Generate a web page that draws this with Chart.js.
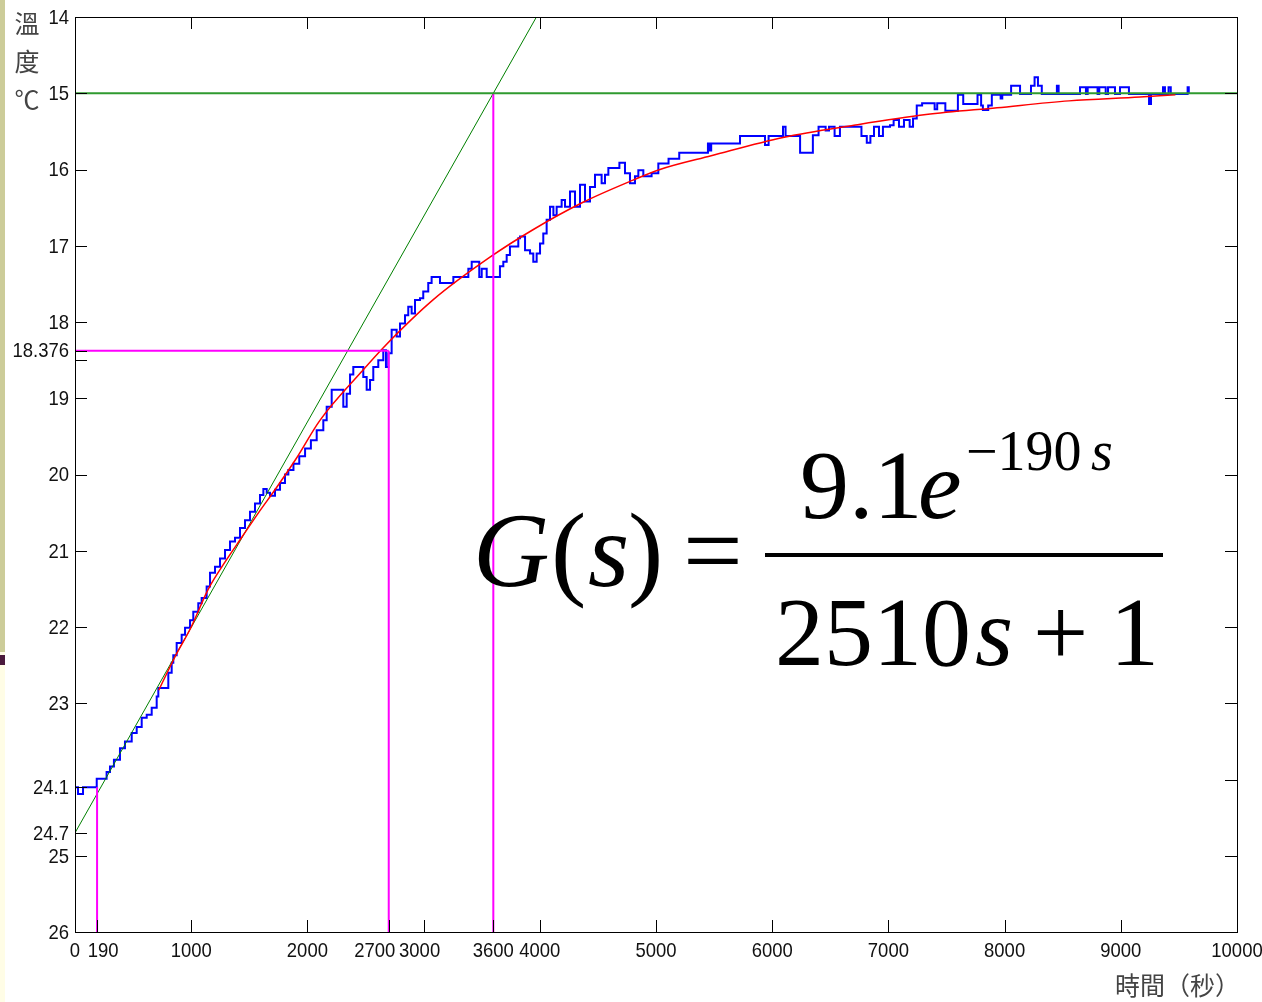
<!DOCTYPE html>
<html>
<head>
<meta charset="utf-8">
<script src="https://cdn.jsdelivr.net/npm/chart.js@4.4.1/dist/chart.umd.min.js"></script>
<style>
  html, body { margin: 0; padding: 0; background: #fff; }
  canvas { display: block; }
</style>
</head>
<body>
<canvas id="c" width="1262" height="1002"></canvas>
<script>
const measTime = [0, 26, 69, 187, 272, 301, 335, 387, 430, 488, 531, 574, 617, 660, 703, 717, 803, 832, 846, 875,
  918, 947, 990, 1018, 1061, 1090, 1133, 1162, 1205, 1248, 1291, 1334, 1377, 1420, 1463, 1506, 1549, 1592, 1621, 1650,
  1678, 1721, 1764, 1807, 1836, 1880, 1930, 1980, 2030, 2080, 2137, 2166, 2209, 2309, 2338, 2367, 2395, 2481, 2510, 2539,
  2567, 2610, 2653, 2676, 2696, 2725, 2768, 2797, 2840, 2868, 2897, 2926, 2969, 2997, 3040, 3069, 3141, 3256, 3385, 3414,
  3479, 3500, 3543, 3657, 3686, 3715, 3743, 3815, 3830, 3873, 3916, 3944, 3973, 4002, 4030, 4059, 4088, 4117, 4145, 4188,
  4217, 4260, 4303, 4346, 4389, 4432, 4475, 4532, 4561, 4590, 4685, 4733, 4776, 4819, 4848, 4891, 4962, 5020, 5108, 5200,
  5447, 5460, 5475, 5723, 5938, 5969, 6093, 6115, 6240, 6350, 6399, 6460, 6489, 6537, 6583, 6768, 6814, 6845, 6876, 6919,
  6953, 7014, 7045, 7091, 7134, 7183, 7212, 7244, 7290, 7398, 7420, 7490, 7598, 7644, 7767, 7798, 7813, 7859, 7890, 7966,
  7980, 8056, 8133, 8227, 8258, 8287, 8320, 8450, 8465, 8649, 8700, 8715, 8800, 8815, 8870, 8890, 8950, 8993, 9070, 9225,
  9243, 9260, 9363, 9380, 9411, 9430, 9575, 9585];
const measTemp = [24.1, 24.19, 24.1, 23.99, 23.9, 23.83, 23.74, 23.59, 23.5, 23.39, 23.31, 23.19, 23.15, 23.06, 22.91, 22.8, 22.6, 22.47, 22.37, 22.21,
  22.1, 22.01, 21.91, 21.8, 21.69, 21.62, 21.47, 21.29, 21.21, 21.1, 20.99, 20.88, 20.83, 20.7, 20.6, 20.49, 20.38, 20.27, 20.19, 20.24,
  20.28, 20.2, 20.11, 20.0, 19.94, 19.86, 19.76, 19.66, 19.55, 19.42, 19.29, 19.11, 18.89, 19.11, 18.94, 18.69, 18.59, 18.72, 18.89, 18.76,
  18.59, 18.5, 18.37, 18.59, 18.41, 18.1, 18.19, 18.02, 17.91, 17.8, 17.89, 17.71, 17.69, 17.6, 17.49, 17.41, 17.49, 17.41, 17.3, 17.21,
  17.41, 17.3, 17.41, 17.27, 17.21, 17.12, 17.01, 16.9, 16.88, 17.06, 17.1, 17.21, 17.1, 16.97, 16.84, 16.66, 16.49, 16.6, 16.49, 16.4,
  16.49, 16.29, 16.49, 16.2, 16.42, 16.23, 16.07, 16.18, 16.07, 15.98, 15.91, 16.05, 16.18, 16.09, 16.01, 16.09, 16.05, 15.92, 15.86, 15.78,
  15.66, 15.75, 15.66, 15.56, 15.68, 15.56, 15.44, 15.56, 15.78, 15.55, 15.44, 15.49, 15.44, 15.56, 15.44, 15.56, 15.65, 15.56, 15.44, 15.56,
  15.44, 15.42, 15.35, 15.44, 15.35, 15.44, 15.33, 15.16, 15.13, 15.21, 15.13, 15.23, 15.02, 15.14, 15.02, 15.16, 15.22, 15.16, 15.02, 15.07,
  15.02, 14.9, 15.01, 14.9, 14.79, 14.9, 15.01, 14.9, 15.01, 14.92, 15.01, 14.92, 15.01, 14.92, 15.01, 14.92, 15.01, 14.92, 15.01, 15.01,
  15.14, 15.01, 14.92, 15.01, 14.92, 15.01, 14.92, 15.0];

// fitted model response (red)
const fitTime = [720, 861, 1000, 1145, 1290, 1437, 1580, 1721, 1900, 2108, 2467, 2651, 3081, 3571, 3941, 4372, 4802, 5034, 5475,
  6093, 6704, 7324, 7935, 8554, 9165, 9470];
const fitTemp = [22.83, 22.39, 22.0, 21.51, 21.15, 20.82, 20.5, 20.2, 19.8, 19.29, 18.65, 18.34, 17.71, 17.15, 16.79, 16.43, 16.14, 16.0, 15.82,
  15.58, 15.42, 15.28, 15.19, 15.1, 15.05, 15.02];

// tangent line and final value
const tangentTime = [0, 3971];
const tangentTemp = [24.7, 14];
const finalTemp = 15;

// marker lines: dead time, 63.2% point, tangent crossing
const markTime = [190, 2700, 3600];
const markTemp = [24.1, 18.376, 15];

const xTicks = [0, 190, 1000, 2000, 2700, 3000, 3600, 4000, 5000, 6000, 7000, 8000, 9000, 10000];
const xTopTicks = [1000, 2000, 3000, 4000, 5000, 6000, 7000, 8000, 9000];
const yTicks = [14, 15, 16, 17, 18, 18.376, 19, 20, 21, 22, 23, 24.1, 24.7, 25, 26];
const yExtraTicks = [18.5];
const yRightTicks = [15, 16, 17, 18, 19, 20, 21, 22, 23, 24, 25];

const pts = (xs, ys) => xs.map((v, i) => ({ x: v, y: ys[i] }));
const seg = (x0, y0, x1, y1) => [{ x: x0, y: y0 }, { x: x1, y: y1 }];

const MAG = '#ff00ff';

// narrow tick label text, like the original plot
function narrowText(ctx, s, px, py) {
  ctx.save();
  ctx.translate(px, py);
  ctx.scale(0.88, 1);
  ctx.fillText(s, 0, 0);
  ctx.restore();
}

const axesBox = {
  id: 'axesBox',
  beforeDraw(chart) {
    const ctx = chart.ctx;
    ctx.save();
    ctx.fillStyle = '#fff';
    ctx.fillRect(0, 0, chart.width, chart.height);
    ctx.fillStyle = '#fffde6';
    ctx.fillRect(0, 0, 5, chart.height);
    ctx.fillStyle = '#cccc99';
    ctx.fillRect(0, 0, 5, 652);
    ctx.fillStyle = '#4a1a3c';
    ctx.fillRect(0, 655, 5, 10);
    ctx.restore();
  },
  afterDraw(chart) {
    const { ctx, chartArea: a, scales: { x, y } } = chart;
    ctx.save();
    ctx.strokeStyle = '#000';
    ctx.lineWidth = 1;
    ctx.strokeRect(a.left + 0.5, a.top + 0.5, a.right - a.left, a.bottom - a.top);

    const tl = 12;
    ctx.beginPath();
    yTicks.concat(yExtraTicks).forEach(v => {
      const py = Math.round(y.getPixelForValue(v)) + 0.5;
      ctx.moveTo(a.left, py); ctx.lineTo(a.left + tl, py);
    });
    yRightTicks.forEach(v => {
      const py = Math.round(y.getPixelForValue(v)) + 0.5;
      ctx.moveTo(a.right, py); ctx.lineTo(a.right - tl, py);
    });
    xTicks.forEach(v => {
      const px = Math.round(x.getPixelForValue(v)) + 0.5;
      ctx.moveTo(px, a.bottom); ctx.lineTo(px, a.bottom - tl);
    });
    xTopTicks.forEach(v => {
      const px = Math.round(x.getPixelForValue(v)) + 0.5;
      ctx.moveTo(px, a.top); ctx.lineTo(px, a.top + tl);
    });
    ctx.stroke();

    // tick labels
    ctx.fillStyle = '#111';
    ctx.font = '21px "Liberation Sans", Arial, sans-serif';
    ctx.textAlign = 'right';
    ctx.textBaseline = 'middle';
    yTicks.forEach(v => {
      narrowText(ctx, String(v), a.left - 6, y.getPixelForValue(v) + 1);
    });
    const xShift = { 190: 6, 2700: -14, 3000: -4 };
    ctx.textAlign = 'center';
    xTicks.forEach(v => {
      narrowText(ctx, String(v), x.getPixelForValue(v) + (xShift[v] || 0), a.bottom + 19);
    });

    // axis titles
    ctx.fillStyle = '#444';
    ctx.font = '25px "Noto Sans CJK TC", sans-serif';
    ctx.textAlign = 'center';
    ['溫', '度', '℃'].forEach((c, i) => ctx.fillText(c, 27, 23 + i * 38));
    ctx.textAlign = 'right';
    ctx.fillText('時間（秒）', 1240, 985);

    // transfer function
    ctx.fillStyle = '#000';
    ctx.textAlign = 'left';
    ctx.textBaseline = 'alphabetic';
    const t = (s, px, py, size, it) => {
      ctx.font = (it ? 'italic ' : '') + size + 'px "Liberation Serif", "Times New Roman", serif';
      ctx.fillText(s, px, py);
    };
    t('G', 473, 586, 106, true);
    t('(', 551, 586, 106, false);
    t('s', 588, 586, 106, true);
    t(')', 628, 586, 106, false);
    t('=', 683, 586, 106, false);
    t('9.1', 800, 518, 98, false);
    t('e', 918, 518, 98, true);
    t('\u2212190', 966, 470, 56, false);
    t('s', 1091, 470, 56, true);
    ctx.fillRect(765, 553, 398, 4);
    t('2510', 775, 665, 98, false);
    t('s', 975, 665, 98, true);
    t('+', 1033, 665, 98, false);
    t('1', 1110, 665, 98, false);
    ctx.restore();
  }
};

new Chart(document.getElementById('c'), {
  type: 'line',
  data: {
    datasets: [
      { data: seg(0, finalTemp, 10000, finalTemp), borderColor: '#2f9a2f', borderWidth: 2, order: 0 },
      { data: seg(markTime[0], markTemp[0], markTime[0], 26), borderColor: MAG, borderWidth: 2, order: 1 },
      { data: seg(markTime[1], markTemp[1], markTime[1], 26), borderColor: MAG, borderWidth: 2, order: 1 },
      { data: seg(markTime[2], markTemp[2], markTime[2], 26), borderColor: MAG, borderWidth: 2, order: 1 },
      { data: seg(0, markTemp[1], markTime[1], markTemp[1]), borderColor: MAG, borderWidth: 2, order: 1 },
      { data: pts(fitTime, fitTemp), borderColor: '#ff0000', borderWidth: 1.5, cubicInterpolationMode: 'monotone', order: 2 },
      { data: pts(tangentTime, tangentTemp), borderColor: '#008000', borderWidth: 1, order: 3 },
      { data: pts(measTime, measTemp), borderColor: '#0000ff', borderWidth: 2, stepped: 'before', order: 4 }
    ]
  },
  options: {
    responsive: false,
    animation: false,
    devicePixelRatio: 1,
    layout: { padding: { left: 75, top: 17, right: 25, bottom: 70 } },
    elements: { point: { radius: 0 } },
    plugins: { legend: { display: false }, tooltip: { enabled: false } },
    scales: {
      x: { type: 'linear', min: 0, max: 10000, display: false },
      y: { type: 'linear', min: 14, max: 26, reverse: true, display: false }
    }
  },
  plugins: [axesBox]
});
</script>
</body>
</html>
